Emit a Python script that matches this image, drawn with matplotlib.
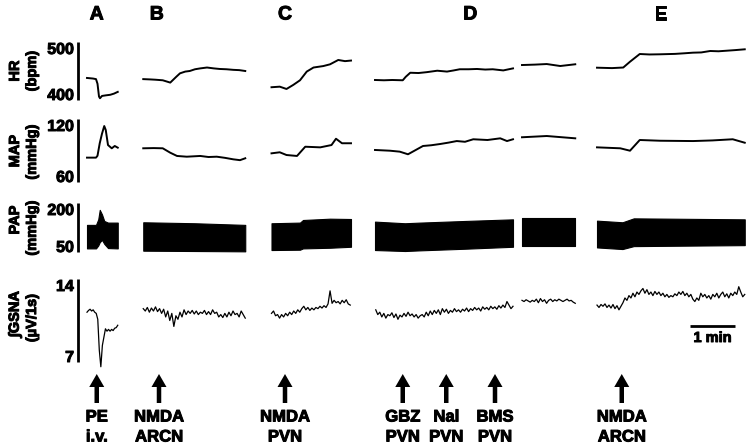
import numpy as np
import matplotlib
matplotlib.use("Agg")
import matplotlib.pyplot as plt
import matplotlib.patheffects as pe

plt.rcParams['font.family'] = ['Liberation Sans', 'DejaVu Sans']
plt.rcParams['font.weight'] = 'bold'

nan = np.nan

# ---------------- data (time in seconds) ----------------
panel_letters = ["A", "B", "C", "D", "E"]
panel_letter_t = [129, 209, 380, 627, 881]

# heart rate (bpm); NaN separates recording segments
hr_t = [116, 124, 128, 130, 132, 133.3, 136, 141, 147, 152, 157, nan,
        191, 200, 207, 217, 227, 235, 240, 247, 253, 260, 267, 276, 285, 293, 302, 311, 319, 327, nan,
        362, 373, 382, 391, 400, 409, 418, 431, 440, 451, 460, 468, nan,
        500, 512, 523, 537, 541, 547, 558, 569, 583, 596, 605, 613, 625, 636, 647, 657, 671, 684, nan,
        696, 713, 729, 747, 767, nan,
        796, 816, 831, 840, 853, 866, 880, 900, 912, 924, 935, 947, 958, 969, 980, 993]
hr_v = [438, 437, 436, 428, 406, 403, 407, 408, 409, 411, 414, nan,
        436, 435.5, 435, 434, 430, 440, 446, 449, 450, 453, 454.5, 456, 454.5, 453.5, 453, 452, 451.5, 450, nan,
        422, 423, 419, 426, 434, 449, 456, 458.5, 461.5, 469, 467, 468, nan,
        434.5, 434, 434.5, 434, 440, 447, 446.5, 448, 450.5, 449, 451, 453, 453, 453.5, 452.5, 453, 451, 454.5, nan,
        460.3, 461, 462, 458.6, 461.6, nan,
        455.7, 455, 456, 466, 479.3, 478.5, 478.8, 479.5, 480.5, 481.6, 482, 484.5, 484, 485, 486, 487.4]

# mean arterial pressure (mmHg)
map_t = [116, 128, 130, 133, 136, 139, 141, 144, 149, 153, 157, nan,
         191, 205, 217, 227, 236, 249, 267, 278, 289, 300, 311, 320, 327, nan,
         362, 373, 382, 396, 407, 427, 442, 448, 456, 468, nan,
         500, 520, 533, 544, 564, 575, 587, 598, 609, 620, 631, 650, 667, 676, 684, nan,
         696, 729, 767, nan,
         796, 827, 840, 853, 880, 924, 950, 977, 993]
map_v = [83.2, 83.2, 85, 97, 106, 113.3, 109.5, 95.2, 92.1, 94.3, 92.7, nan,
         92.1, 92.3, 92.1, 87.9, 84.8, 84.1, 84.8, 83.8, 84.1, 83.0, 81.6, 80.8, 82.6, nan,
         87.3, 88.3, 85.7, 84.8, 93.6, 93.0, 95.2, 101.2, 96.9, 96.9, nan,
         90.5, 89.8, 88.9, 86.4, 94.3, 95.0, 96.2, 97.5, 99.0, 98.3, 100.7, 100.0, 101.6, 99.0, 100.7, nan,
         102.6, 103.8, 101.6, nan,
         93.0, 92.1, 89.8, 100, 99.3, 99.0, 99.6, 100.7, 97.4]

# pulsatile arterial pressure envelope (mmHg)
pap_t = [116, 128, 131, 133, 136, 139, 144, 157, nan,
         191, 260, 327, nan,
         362, 400, 404, 440, 468, nan,
         500, 540, 560, 620, 684, nan,
         696, 767, nan,
         796, 830, 845, 993]
pap_sys = [133, 133, 150, 179, 165, 145, 140, 140, nan,
           141, 138, 133, nan,
           138, 140, 148, 152, 151, nan,
           143, 138, 140, 145, 150, nan,
           153, 153, nan,
           146, 141, 153, 150]
pap_dia = [61, 61, 70, 80, 87, 75, 62, 61, nan,
           54, 53, 52, nan,
           56, 57, 61, 63, 66, nan,
           56, 53, 55, 60, 66, nan,
           69, 69, nan,
           64, 59, 68, 71]

# integrated GSNA (uV/1s), evenly sampled within each segment
gsna_start = [116, 191, 362, 501, 696, 796]
gsna_end = [157, 327, 467, 684, 767, 993]
gsna_A = [11.2, 11.35, 11.45, 11.3, 11.4, 11.2, 11.1, 10.6, 8.0, 6.6, 8.4,
          9.1, 9.8, 9.6, 9.75, 9.6, 9.75, 9.65, 9.85, 9.9, 10.1]
gsna_B = [11.5, 11.3, 11.6, 11.2, 11.55, 11.3, 11.65, 11.25, 11.5, 11.1, 11.45,
          10.8, 11.3, 10.5, 11.1, 10.0, 10.9, 10.6, 11.2, 10.8, 11.4, 11.0,
          11.3, 11.1, 11.35, 11.05, 11.3, 11.0, 11.2, 11.1, 11.35, 11.0, 11.25,
          11.0, 11.4, 11.1, 11.2, 10.8, 11.0, 10.75, 11.1, 10.8, 11.2, 10.9,
          11.3, 11.0, 11.1, 10.8, 11.3, 11.0, 10.7]
gsna_C = [11.1, 11.3, 10.9, 11.0, 10.7, 11.0, 10.8, 11.1, 10.9, 11.2, 11.0,
          11.3, 11.1, 11.4, 11.2, 11.5, 11.7, 11.4, 11.6, 11.35, 11.55, 11.4,
          11.6, 11.5, 11.7, 11.55, 11.75, 11.6, 11.9, 13.0, 11.95, 12.2, 12.0,
          12.1, 11.9, 12.2, 12.0, 12.25, 11.9, 11.8]
gsna_D1 = [11.4, 11.0, 11.2, 10.8, 11.1, 10.7, 11.0, 10.9, 11.15, 10.75,
           11.05, 10.6, 10.95, 10.8, 11.1, 10.85, 11.2, 10.9, 11.05, 10.8,
           11.0, 10.7, 10.9, 11.0, 10.8, 11.2, 10.9, 11.3, 11.0, 11.35,
           11.1, 11.4, 11.0, 11.5, 11.2, 11.45, 11.1, 11.35, 11.2, 11.5,
           11.25, 11.4, 11.2, 11.45, 11.3, 11.55, 11.25, 11.5, 11.35, 11.6,
           11.4, 11.55, 11.3, 11.65, 11.45, 11.6, 11.4, 11.7, 11.5, 11.65,
           11.45, 11.75, 11.55, 11.8, 11.6, 12.1, 11.8, 11.5, 11.7]
gsna_D2 = [12.2, 12.1, 12.25, 12.15, 12.05, 12.2, 12.1, 12.3, 12.0, 12.35,
           12.1, 12.25, 11.95, 12.2, 12.3, 12.1, 12.25, 12.15, 12.3, 12.2,
           12.1, 12.2, 12.3, 12.15, 12.2, 12.05, 11.95]
gsna_E = [11.8, 11.6, 11.85, 11.7, 11.9, 11.6, 11.8, 11.55, 11.85, 11.5,
          11.75, 11.4, 11.7, 12.0, 12.4, 12.2, 12.6, 12.4, 12.8, 12.5,
          12.9, 12.7, 13.0, 13.2, 12.8, 13.1, 12.7, 12.9, 12.6, 12.95,
          12.7, 12.9, 12.6, 12.8, 12.5, 12.7, 12.45, 12.6, 12.5, 12.75,
          12.6, 12.9, 12.7, 12.95, 12.6, 12.8, 12.5, 12.7, 12.3, 12.1,
          12.4, 12.2, 12.8, 12.5, 12.7, 12.4, 12.6, 12.3, 12.7, 12.5,
          12.8, 12.4, 12.7, 12.9, 12.5, 12.75, 12.4, 12.8, 12.6, 12.9,
          12.7, 13.35, 12.9, 12.5, 12.7]
gsna_segments = [gsna_A, gsna_B, gsna_C, gsna_D1, gsna_D2, gsna_E]

hr_ticks = [400, 500]
map_ticks = [60, 120]
pap_ticks = [50, 200]
gsna_ticks = [7, 14]

inj_t = [129, 212, 380, 537, 595, 660, 829]
inj_drug = ["PE", "NMDA", "NMDA", "GBZ", "Nal", "BMS", "NMDA"]
inj_site = ["i.v.", "ARCN", "PVN", "PVN", "PVN", "PVN", "ARCN"]

# ---------------- layout ----------------
W, H = 750, 446
XMAX = 1000.0          # seconds spanned by figure width
fig = plt.figure(figsize=(W / 100, H / 100), dpi=100)

heavy = [pe.withStroke(linewidth=0.7, foreground='black')]

def add_row(top_px, bot_px, lims):
    ax = fig.add_axes([0, 1 - bot_px / H, 1, (bot_px - top_px) / H])
    ax.set_xlim(0, XMAX)
    ax.set_ylim(lims[0], lims[1])
    ax.axis('off')
    return ax

bar_x = 77.5 * XMAX / W
lab_x = 74.0 * XMAX / W
tick_fs = 11.5
lab_fs = 10.5

def scale_and_ticks(ax, ticks):
    ax.plot([bar_x, bar_x], ticks, color='black', lw=2.0,
            solid_capstyle='butt', clip_on=False)
    ax.text(lab_x, ticks[1], str(ticks[1]), ha='right', va='top',
            fontsize=tick_fs, fontweight='bold', path_effects=heavy)
    ax.text(lab_x, ticks[0], str(ticks[0]), ha='right', va='baseline',
            fontsize=tick_fs, fontweight='bold', path_effects=heavy)

# HR
ax_hr = add_row(42, 100, hr_ticks)
ax_hr.plot(hr_t, hr_v, color='black', lw=1.4, clip_on=False)
scale_and_ticks(ax_hr, hr_ticks)

# MAP
ax_map = add_row(119, 182, map_ticks)
ax_map.plot(map_t, map_v, color='black', lw=1.4, clip_on=False)
scale_and_ticks(ax_map, map_ticks)

# PAP
ax_pap = add_row(203, 252, pap_ticks)
pt = np.array(pap_t, float)
ps = np.array(pap_sys, float)
pdia = np.array(pap_dia, float)
breaks = np.where(np.isnan(pt))[0]
edges = np.concatenate([[-1], breaks, [len(pt)]])
for a, b in zip(edges[:-1], edges[1:]):
    sl = slice(a + 1, b)
    ax_pap.fill_between(pt[sl], pdia[sl], ps[sl], color='black', lw=0.8,
                        edgecolor='black', clip_on=False)
scale_and_ticks(ax_pap, pap_ticks)

# GSNA
ax_gs = add_row(279, 362, gsna_ticks)
for t0, t1, vals in zip(gsna_start, gsna_end, gsna_segments):
    tt = np.linspace(t0, t1, len(vals))
    ax_gs.plot(tt, vals, color='black', lw=0.9, clip_on=False)
scale_and_ticks(ax_gs, gsna_ticks)

# channel labels
def fx(p):
    return p / W

def fy(p):
    return 1 - p / H

row_labels = [("HR", "(bpm)", 71, 71),
              ("MAP", "(mmHg)", 151, 152),
              ("PAP", "(mmHg)", 220, 228),
              ("\u222bGSNA", "(\u00b5V/1s)", 314, 318)]
for l1, l2, y1, y2 in row_labels:
    fig.text(fx(15), fy(y1), l1, rotation=90, ha='center', va='center',
             fontsize=lab_fs, fontweight='bold', path_effects=heavy)
    fig.text(fx(32), fy(y2), l2, rotation=90, ha='center', va='center',
             fontsize=lab_fs, fontweight='bold', path_effects=heavy)

# overlay in (seconds, pixel-y) coordinates
ov = fig.add_axes([0, 0, 1, 1])
ov.set_xlim(0, XMAX)
ov.set_ylim(H, 0)
ov.axis('off')
ov.patch.set_alpha(0)

for letter, t in zip(panel_letters, panel_letter_t):
    ov.text(t, 15, letter, ha='center', va='center', fontsize=14,
            fontweight='bold', path_effects=heavy)

px2s = XMAX / W
for t, d, s in zip(inj_t, inj_drug, inj_site):
    ov.arrow(t, 403, 0, -29, width=4.5 * px2s, head_width=15 * px2s,
             head_length=13, length_includes_head=True, color='black', lw=0)
    ov.text(t, 417, d, ha='center', va='center', fontsize=12,
            fontweight='bold', path_effects=heavy)
    ov.text(t, 437, s, ha='center', va='center', fontsize=12,
            fontweight='bold', path_effects=heavy)

# 1-min time bar
tb0 = 920
ov.plot([tb0, tb0 + 60], [326, 326], color='black', lw=2.0,
        solid_capstyle='butt')
ov.text(tb0 + 30, 338, "1 min", ha='center', va='center', fontsize=10.5,
        fontweight='bold', path_effects=heavy)

fig.savefig("out.png", dpi=100)
